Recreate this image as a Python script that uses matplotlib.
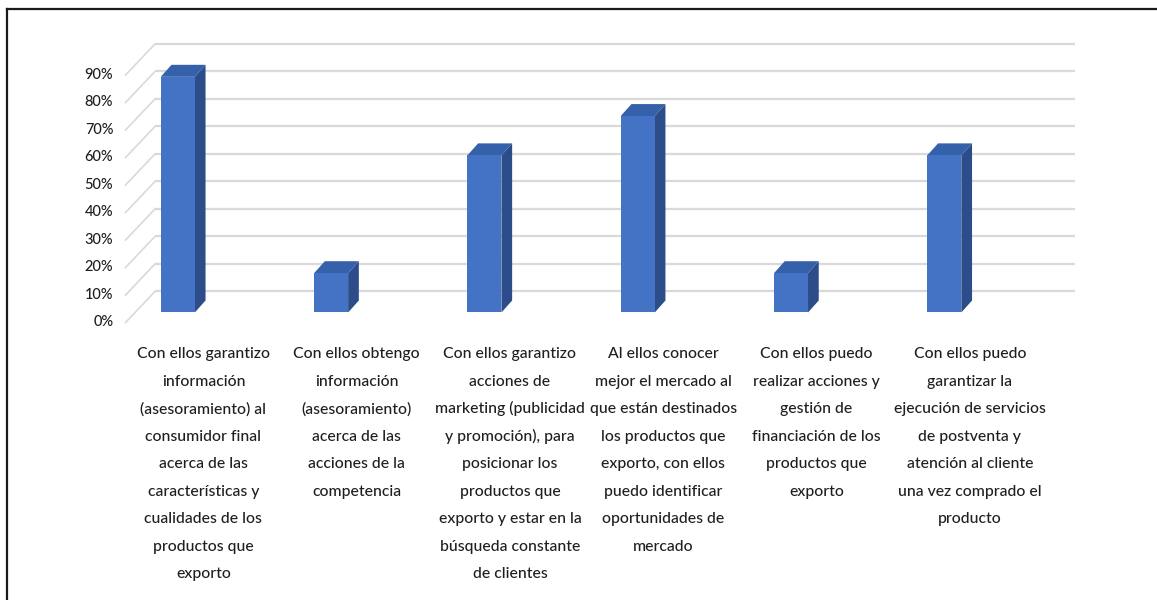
import matplotlib

matplotlib.use("Agg")
import matplotlib.pyplot as plt
from matplotlib.lines import Line2D
from matplotlib.patches import Polygon

# Datos de la encuesta (porcentaje de respuestas, n = 7)
categorias = [
    ["Con ellos garantizo", "información", "(asesoramiento) al", "consumidor final",
     "acerca de las", "características y", "cualidades de los", "productos que", "exporto"],
    ["Con ellos obtengo", "información", "(asesoramiento)", "acerca de las",
     "acciones de la", "competencia"],
    ["Con ellos garantizo", "acciones de", "marketing (publicidad", "y promoción), para",
     "posicionar los", "productos que", "exporto y estar en la", "búsqueda constante",
     "de clientes"],
    ["Al ellos conocer", "mejor el mercado al", "que están destinados", "los productos que",
     "exporto, con ellos", "puedo identificar", "oportunidades de", "mercado"],
    ["Con ellos puedo", "realizar acciones y", "gestión de", "financiación de los",
     "productos que", "exporto"],
    ["Con ellos puedo", "garantizar la", "ejecución de servicios", "de postventa y",
     "atención al cliente", "una vez comprado el", "producto"],
]
porcentajes = [85.71, 14.29, 57.14, 71.43, 14.29, 57.14]
ticks = [0, 10, 20, 30, 40, 50, 60, 70, 80, 90]
tick_labels = [f"{t}%" for t in ticks]

# Colores de las caras de la barra 3D
C_FRENTE = "#4472c4"
C_TECHO = "#3560aa"
C_LADO = "#2c4d8a"
C_GRID = "#d9d9d9"
C_TEXTO = "#1f1f1f"
FUENTE = ["Lato", "DejaVu Sans"]

# Geometria de la perspectiva (x en categorias, y en puntos porcentuales)
MEDIO_ANCHO = 0.111
PROF_X, PROF_Y = 0.070, 4.36
PARED_X0, PARED_X1, PARED_DY = -0.149, 5.853, 7.64
LADO_X, LADO_DY = -0.341, -3.64

fig = plt.figure(figsize=(11.57, 6.0), dpi=100)
fig.patch.set_facecolor("white")
ax = fig.add_axes([0, 0, 1, 1])
ax.set_xlim(-1.1598, 6.3875)
ax.set_ylim(-104.55, 113.64)
ax.axis("off")

# Lineas de division: pared del fondo y pared lateral
for t in ticks:
    ax.plot([PARED_X0, PARED_X1], [t + PARED_DY, t + PARED_DY],
            color=C_GRID, lw=1.6, solid_capstyle="butt", zorder=1)
    ax.plot([LADO_X, PARED_X0], [t + LADO_DY, t + PARED_DY],
            color=C_GRID, lw=1.2, zorder=1)

for t, lab in zip(ticks, tick_labels):
    ax.text(LADO_X - 0.08, t + LADO_DY + 0.5 - 1.9, lab, ha="right", va="baseline",
            fontsize=10.5, color=C_TEXTO, family=FUENTE, fontweight="medium")

# Barras en pseudo 3D
for i, v in enumerate(porcentajes):
    x0, x1 = i - MEDIO_ANCHO, i + MEDIO_ANCHO
    frente = [(x0, 0), (x1, 0), (x1, v), (x0, v)]
    techo = [(x0, v), (x1, v), (x1 + PROF_X, v + PROF_Y), (x0 + PROF_X, v + PROF_Y)]
    lado = [(x1, 0), (x1 + PROF_X, PROF_Y), (x1 + PROF_X, v + PROF_Y), (x1, v)]
    ax.add_patch(Polygon(lado, closed=True, facecolor=C_LADO, edgecolor="none", zorder=3))
    ax.add_patch(Polygon(techo, closed=True, facecolor=C_TECHO, edgecolor="none", zorder=3))
    ax.add_patch(Polygon(frente, closed=True, facecolor=C_FRENTE, edgecolor="none", zorder=4))

# Etiquetas de categoria, un renglon por linea
for i, lineas in enumerate(categorias):
    for j, linea in enumerate(lineas):
        ax.text(i + 0.167, -14.7 - 10 * j - 2.0, linea, ha="center", va="baseline",
                fontsize=11.3, color=C_TEXTO, family=FUENTE, fontweight="medium")

# Marco del grafico (solo borde superior e izquierdo visibles)
fig.add_artist(Line2D([7 / 1157, 1.0], [1 - 9 / 600, 1 - 9 / 600],
                      transform=fig.transFigure, color="#1a1a1a", lw=1.6))
fig.add_artist(Line2D([7 / 1157, 7 / 1157], [0.0, 1 - 9 / 600],
                      transform=fig.transFigure, color="#1a1a1a", lw=1.6))

fig.savefig("out.png", dpi=100, facecolor=fig.get_facecolor())
plt.close(fig)
